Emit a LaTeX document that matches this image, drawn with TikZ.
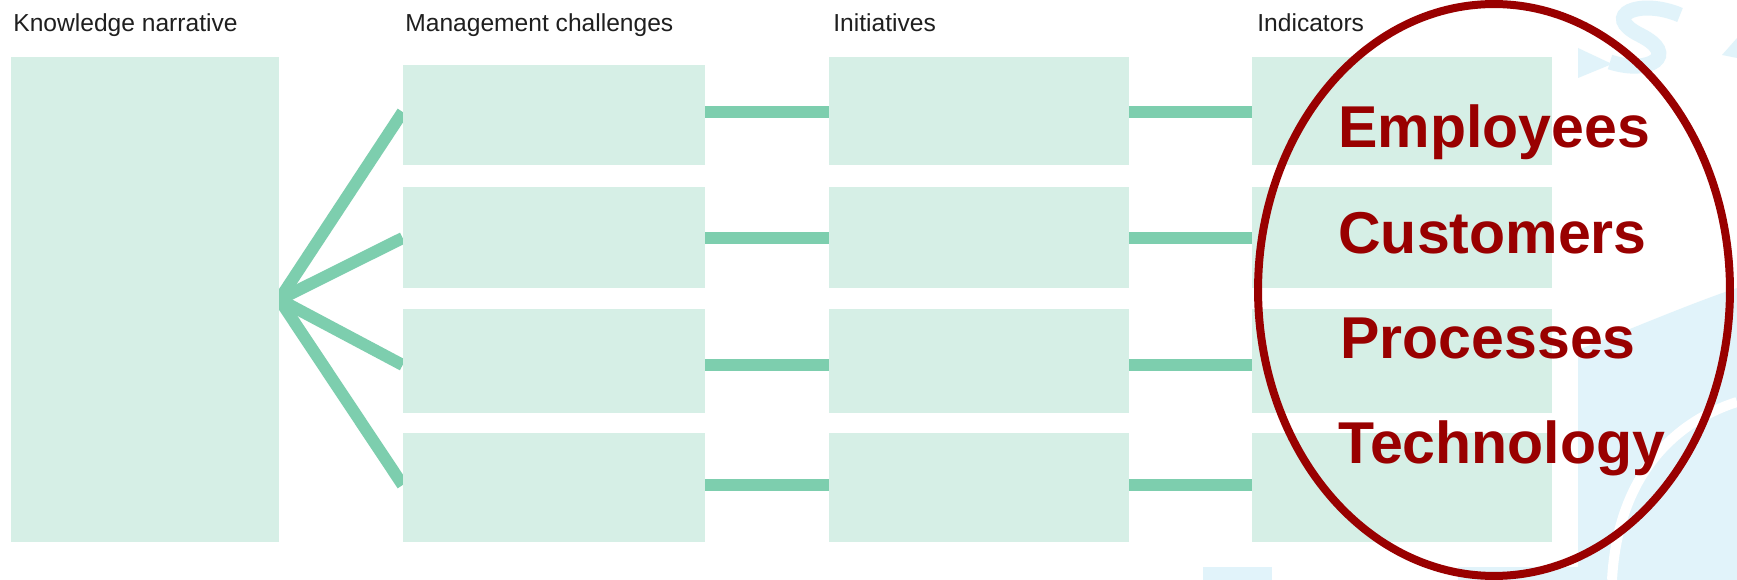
\documentclass[tikz,border=0pt]{standalone}
\usepackage{fontspec}
\setmainfont{Liberation Sans}
\usepackage{tikz}
\usetikzlibrary{shapes.geometric}
\definecolor{boxgreen}{HTML}{D6EFE6}
\definecolor{linkgreen}{HTML}{7DCEAE}
\definecolor{ringred}{HTML}{990000}
\definecolor{markblue}{HTML}{E1F3FA}
\pgfdeclarelayer{back}
\pgfdeclarelayer{links}
\pgfsetlayers{back,links,main}

\begin{document}
\begin{tikzpicture}[x=0.02cm,y=-0.02cm,
  box/.style={fill=boxgreen,inner sep=0,minimum width=6cm},
  link/.style={draw=linkgreen,line width=0.24cm},
  head/.style={anchor=base west,inner sep=0,text=black!88,font=\fontsize{14}{16}\selectfont},
  factor/.style={anchor=base west,inner sep=0,text=ringred,font=\bfseries\fontsize{33.6}{38}\selectfont},
  ring/.style={ellipse,draw=ringred,line width=0.16cm,inner sep=0,minimum width=9.44cm,minimum height=11.44cm}]
\useasboundingbox (0,0) rectangle (1737,580);
\begin{pgfonlayer}{back}
\fill[white] (0,0) rectangle (1737,580);
% faint watermark behind the ring
\fill[markblue] (1578,580) -- (1578,350) .. controls (1640,325) and (1700,300) .. (1737,288) -- (1737,580) -- cycle;
\draw[white,line width=0.2cm] (1612,580) .. controls (1618,470) and (1680,420) .. (1737,402);
\draw[markblue,line width=0.3cm] (1680,15) .. controls (1640,-2) and (1600,15) .. (1640,35) .. controls (1680,55) and (1650,75) .. (1610,62);
\fill[markblue] (1578,48) -- (1612,64) -- (1578,78) -- cycle;
\fill[markblue] (1722,55) -- (1737,38) -- (1737,58) -- cycle;
\fill[markblue] (1203,567) rectangle (1272,580);
\fill[markblue] (1458,567) rectangle (1578,580);
\end{pgfonlayer}

\node[head] (hkn) at (13,32) {Knowledge narrative};
\node[head] (hmc) at (405,32) {Management challenges};
\node[head] (hin) at (833,32) {Initiatives};
\node[head] (hind) at (1257,32) {Indicators};

\node[box,minimum width=5.36cm,minimum height=9.7cm] (kn) at (145,299.5) {};
\foreach \i/\c/\h/\ct/\ht in {1/115/100/111/108,2/237.5/101/237.5/101,3/361/104/361/104,4/487.5/109/487.5/109}{
\node[box,minimum width=6.04cm,minimum height=\h*0.02cm] (mc\i) at (554,\c) {};
\node[box,minimum height=\ht*0.02cm] (in\i) at (979,\ct) {};
\node[box,minimum height=\ht*0.02cm] (ind\i) at (1402,\ct) {};
}
\foreach \i/\y in {1/112,2/238,3/365,4/485}
\coordinate (r\i) at (0,\y);

\begin{pgfonlayer}{links}
\foreach \i in {1,...,4}{
\draw[link] (kn.east) -- (mc\i.west |- r\i);
\draw[link] (mc\i.east |- r\i) -- (in\i.west |- r\i);
\draw[link] (in\i.east |- r\i) -- (ind\i.west |- r\i);
}
\end{pgfonlayer}

\node[ring] (ring) at (1494,290) {};
\foreach \n/\t/\x/\y in {emp/Employees/1338/148,cus/Customers/1338/254,pro/Processes/1340/359,tec/Technology/1338/463}
\node[factor] (\n) at (\x,\y) {\t};
\end{tikzpicture}
\end{document}
